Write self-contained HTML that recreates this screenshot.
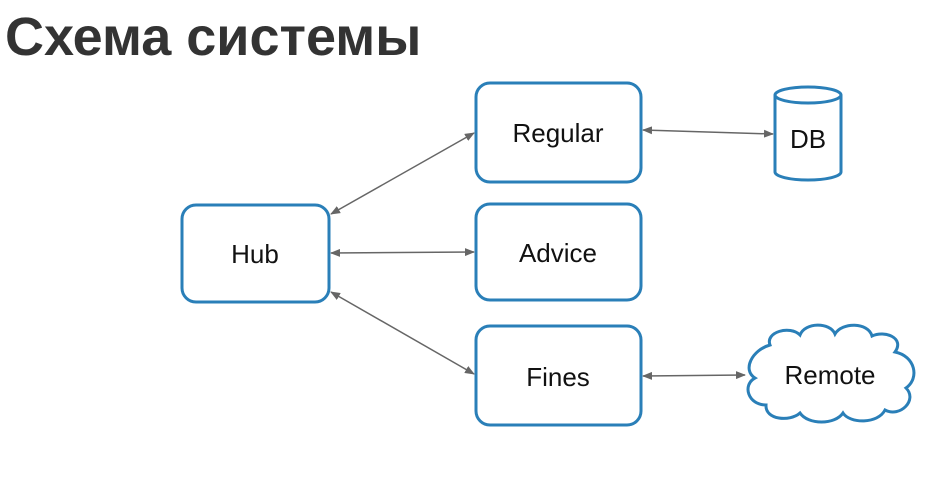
<!DOCTYPE html>
<html><head><meta charset="utf-8"><style>
body{margin:0;background:#fff;width:938px;height:474px;overflow:hidden}
</style></head><body>
<svg width="938" height="474" xmlns="http://www.w3.org/2000/svg" font-family="Liberation Sans, sans-serif">
<defs><marker id="a" markerWidth="10" markerHeight="8" refX="9" refY="4" orient="auto-start-reverse" markerUnits="userSpaceOnUse"><path d="M0,0L10,4L0,8z" fill="#666"/></marker></defs>
<text x="5" y="55" font-size="54" font-weight="bold" fill="#333">Схема системы</text>
<g fill="none" stroke="#2a7fb8" stroke-width="3">
<rect x="476" y="83" width="165" height="99" rx="14"/>
<rect x="476" y="204" width="165" height="96" rx="14"/>
<rect x="476" y="326" width="165" height="99" rx="14"/>
<rect x="182" y="205" width="147" height="97" rx="14"/>
<path d="M775,95 L775,172 A33,8 0 0 0 841,172 L841,95"/>
<ellipse cx="808" cy="95" rx="33" ry="8"/>
<path d="M770,345 C765,332 790,325 800,335 C805,322 830,322 835,334 C842,322 868,322 872,336 C885,330 905,338 895,352 C915,356 920,378 906,388 C918,400 900,418 885,410 C878,424 850,424 843,413 C835,425 808,425 800,413 C790,422 765,420 766,405 C748,405 742,385 755,378 C742,370 752,350 770,345 Z"/>
</g>
<g stroke="#666" stroke-width="1.5" fill="none" marker-start="url(#a)" marker-end="url(#a)">
<line x1="331" y1="214" x2="474" y2="133"/>
<line x1="331" y1="253" x2="474" y2="252"/>
<line x1="331" y1="292" x2="474" y2="374"/>
<line x1="643" y1="130" x2="773" y2="134"/>
<line x1="643" y1="376" x2="745" y2="375"/>
</g>
<g font-size="26" fill="#111" text-anchor="middle">
<text x="558" y="142">Regular</text>
<text x="558" y="262">Advice</text>
<text x="558" y="386">Fines</text>
<text x="255" y="263">Hub</text>
<text x="808" y="148">DB</text>
<text x="830" y="384">Remote</text>
</g>
</svg>
</body></html>
